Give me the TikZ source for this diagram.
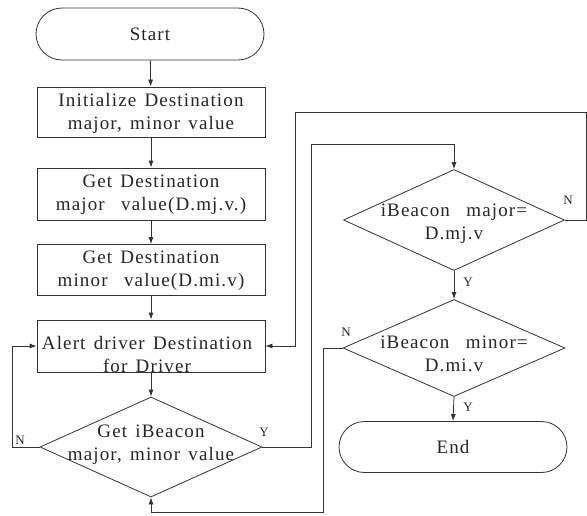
\documentclass[tikz,border=0pt]{standalone}
\usepackage{fontspec}
\setmainfont[LetterSpace=6,WordSpace=1.4]{Liberation Serif}
\usetikzlibrary{shapes.geometric,shapes.misc,arrows.meta}
\begin{document}
\begin{tikzpicture}[x=1pt,y=-1pt,
  lbl/.style={font=\fontsize{19}{23}\selectfont, align=center, inner sep=0pt, text=black!85},
  term/.style={draw=black!80, line width=0.8pt, rounded rectangle, minimum width=228pt, minimum height=52pt, inner sep=0pt},
  proc/.style={draw=black!80, line width=0.8pt, rectangle, minimum width=228pt, minimum height=51pt, inner sep=0pt},
  dec/.style={draw=black!80, line width=0.8pt, diamond, inner sep=0pt},
  yn/.style={font=\fontsize{13}{15}\selectfont, inner sep=0pt, text=black!85},
  conn/.style={draw=black!80, line width=0.8pt, -{Latex[length=7pt,width=5pt]}}
]
\useasboundingbox (0,0) rectangle (587,515);
\fill[white] (0,0) rectangle (587,515);

\node[term] (start) at (150,34) {};
\node[lbl] (starttxt) at (150,34) {Start};

\node[proc, minimum height=50pt] (b1) at (151,112) {};
\node[lbl] (b1txt) at (151,113) {Initialize Destination\\major, minor value};

\node[proc, minimum height=52pt] (b2) at (151,194) {};
\node[lbl] (b2txt) at (151,195) {Get Destination\\major\ \ value(D.mj.v.)};

\node[proc, minimum height=51pt] (b3) at (151,270) {};
\node[lbl] (b3txt) at (151,271) {Get Destination\\minor\ \ value(D.mi.v)};

\node[proc, minimum height=52pt] (b4) at (151,346) {};
\node[lbl] (b4txt) at (147,354) {Alert driver Destination\\for Driver};

\node[dec, minimum width=222pt, minimum height=100pt] (d1) at (151,447) {};
\node[lbl] (d1txt) at (151,445) {Get iBeacon\\major,\ minor value};

\node[dec, minimum width=221pt, minimum height=101pt] (d2) at (454,220) {};
\node[lbl] (d2txt) at (454,224) {iBeacon\ \ major=\\D.mj.v};

\node[dec, minimum width=222pt, minimum height=97pt] (d3) at (454,348) {};
\node[lbl] (d3txt) at (454,354) {iBeacon\ \ minor=\\D.mi.v};

\node[term, minimum height=51pt] (end) at (453,447) {};
\node[lbl] (endtxt) at (453,447) {End};

\coordinate (c1) at (311,447);
\coordinate (c2) at (311,144);
\coordinate (c3) at (454,144);
\coordinate (c4) at (586,220);
\coordinate (c5) at (586,112);
\coordinate (c6) at (295,112);
\coordinate (c7) at (295,346);
\coordinate (c8) at (323,348);
\coordinate (c9) at (323,512);
\coordinate (c10) at (151,512);
\coordinate (c11) at (12,447);
\coordinate (c12) at (12,346);

\draw[conn] (start) -- (b1);
\draw[conn] (b1) -- (b2);
\draw[conn] (b2) -- (b3);
\draw[conn] (b3) -- (b4);
\draw[conn] (b4) -- (d1);
\draw[conn] (d1.east) -- (c1) -- (c2) -- (c3) -- (d2.north);
\draw[conn] (d2.east) -- (c4) -- (c5) -- (c6) -- (c7) -- (b4.east);
\draw[conn] (d2.south) -- (d3.north);
\draw[conn] (d3.south) -- (end.north);
\draw[conn] (d3.west) -- (c8) -- (c9) -- (c10) -- (d1.south);
\draw[conn] (d1.west) -- (c11) -- (c12) -- (b4.west);

\node[yn] (ly1) at (264,432) {Y};
\node[yn] (ln1) at (20,440) {N};
\node[yn] (ln2) at (568,200) {N};
\node[yn] (ly2) at (468,282) {Y};
\node[yn] (ln3) at (346,332) {N};
\node[yn] (ly3) at (468,407) {Y};
\end{tikzpicture}
\end{document}
